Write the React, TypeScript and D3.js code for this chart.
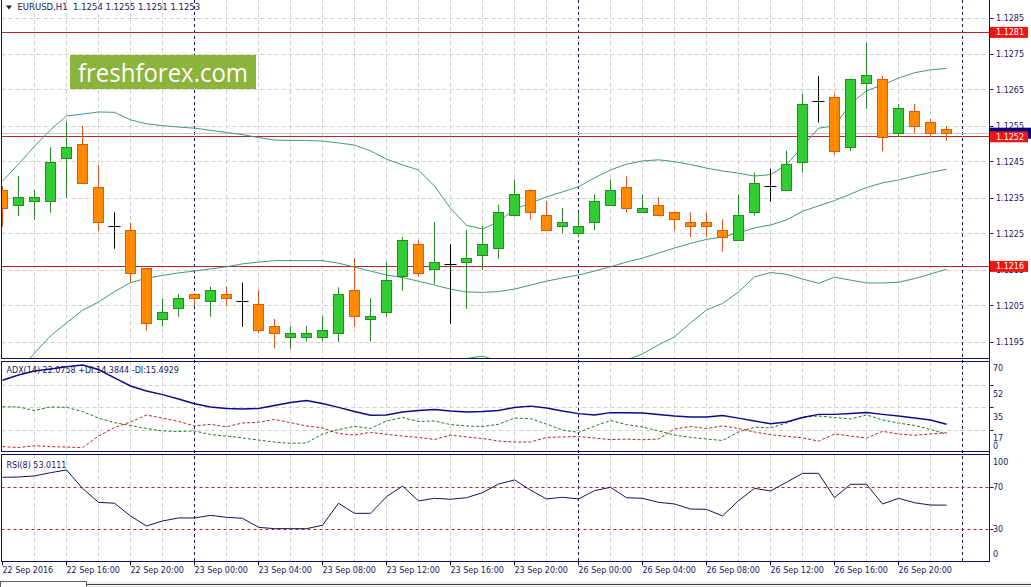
import * as d3 from 'd3'

// ── Data (EURUSD H1, 22 Sep 12:00 → 26 Sep 23:00) ────────────────────
const open = [
  1.12372, 1.12329, 1.1234, 1.1234, 1.1246, 1.12499, 1.1238, 1.1227, 1.1226, 1.12155,
  1.12012, 1.12044, 1.12083, 1.12063, 1.12083, 1.12063, 1.12053, 1.11994, 1.11963, 1.11963,
  1.11963, 1.11974, 1.12094, 1.12013, 1.12032, 1.12131, 1.12221, 1.12152, 1.12164, 1.12171,
  1.12191, 1.12209, 1.12301, 1.12371, 1.12302, 1.12271, 1.12252, 1.12282, 1.1233, 1.1238,
  1.1231, 1.1233, 1.1231, 1.12282, 1.12282, 1.1226, 1.12232, 1.12309, 1.12381, 1.12371,
  1.12449, 1.12619, 1.1263, 1.12491, 1.12669, 1.1268, 1.1253, 1.12591, 1.1256, 1.12541,
]
const high = [
  1.12383, 1.12411, 1.12372, 1.12491, 1.12562, 1.1255, 1.12442, 1.1231, 1.12282, 1.12155,
  1.12071, 1.12083, 1.12085, 1.12104, 1.12104, 1.12115, 1.12094, 1.12014, 1.11994, 1.11994,
  1.12022, 1.12102, 1.12183, 1.12071, 1.12172, 1.12242, 1.12233, 1.12283, 1.12222, 1.12261,
  1.12272, 1.12331, 1.12402, 1.12373, 1.12342, 1.12322, 1.12309, 1.1236, 1.12402, 1.1241,
  1.1236, 1.12352, 1.12312, 1.1231, 1.1231, 1.12291, 1.1236, 1.12421, 1.12431, 1.12481,
  1.12639, 1.12689, 1.12639, 1.12682, 1.12781, 1.12689, 1.12611, 1.12611, 1.12569, 1.1255,
]
const low = [
  1.1227, 1.123, 1.12289, 1.12309, 1.12351, 1.12388, 1.12259, 1.12209, 1.12115, 1.11981,
  1.11992, 1.1202, 1.1205, 1.1202, 1.1205, 1.11992, 1.11974, 1.11932, 1.11931, 1.11951,
  1.11951, 1.11951, 1.11992, 1.11951, 1.1202, 1.12092, 1.12131, 1.12111, 1.12, 1.12042,
  1.1215, 1.12181, 1.12299, 1.1229, 1.12258, 1.12252, 1.12241, 1.1226, 1.12328, 1.1231,
  1.12308, 1.123, 1.1226, 1.12241, 1.12241, 1.12201, 1.1223, 1.12301, 1.1234, 1.12369,
  1.1242, 1.12559, 1.1247, 1.1248, 1.12598, 1.1248, 1.1252, 1.1253, 1.1252, 1.12509,
]
const close = [
  1.12321, 1.12352, 1.12352, 1.12449, 1.12491, 1.12391, 1.12281, 1.1227, 1.12141, 1.12002,
  1.12032, 1.12071, 1.12071, 1.12094, 1.12071, 1.12063, 1.11982, 1.11974, 1.11974, 1.11974,
  1.11983, 1.12083, 1.1202, 1.12021, 1.12122, 1.12232, 1.12141, 1.12171, 1.12164, 1.12182,
  1.12221, 1.1231, 1.1236, 1.1231, 1.1226, 1.12282, 1.12271, 1.12341, 1.12371, 1.12321,
  1.12321, 1.12302, 1.12291, 1.12271, 1.12271, 1.12241, 1.12302, 1.12391, 1.12381, 1.12442,
  1.1261, 1.12619, 1.1248, 1.1268, 1.12689, 1.12519, 1.12599, 1.12549, 1.1253, 1.1253,
]

const bandUpper = [
  1.12397, 1.12444, 1.12494, 1.12539, 1.12578, 1.12583, 1.12589, 1.12588, 1.12567, 1.12556,
  1.12551, 1.12547, 1.12544, 1.12538, 1.12532, 1.12526, 1.12518, 1.12511, 1.1251, 1.1251,
  1.12508, 1.12503, 1.12497, 1.12481, 1.12458, 1.12442, 1.12428, 1.12383, 1.12322, 1.12274,
  1.12264, 1.12283, 1.12319, 1.12336, 1.12353, 1.12367, 1.12381, 1.12406, 1.12428, 1.12444,
  1.12453, 1.12456, 1.12451, 1.12443, 1.12433, 1.12425, 1.12419, 1.12411, 1.12415, 1.12442,
  1.12493, 1.12544, 1.1255, 1.12611, 1.12648, 1.12664, 1.12683, 1.12698, 1.12706, 1.1271,
]
const bandMiddle = [
  1.11822, 1.11869, 1.11919, 1.11967, 1.12003, 1.12038, 1.12061, 1.1209, 1.12115, 1.12127,
  1.12135, 1.12142, 1.12147, 1.12153, 1.12159, 1.12167, 1.12172, 1.12176, 1.12176, 1.12176,
  1.12176, 1.12169, 1.12158, 1.12147, 1.12136, 1.12129, 1.12119, 1.12108, 1.12097, 1.12089,
  1.12088, 1.1209, 1.12097, 1.12108, 1.12119, 1.12128, 1.12136, 1.12147, 1.12159, 1.12172,
  1.12183, 1.12197, 1.12211, 1.12224, 1.12235, 1.12242, 1.12253, 1.12267, 1.12275, 1.12289,
  1.12313, 1.12328, 1.12343, 1.12361, 1.12379, 1.12392, 1.124, 1.12411, 1.12421, 1.1243,
]
const bandLower = [
  1.11247, 1.11294, 1.11344, 1.11394, 1.11428, 1.11492, 1.11533, 1.11594, 1.11664, 1.117,
  1.11719, 1.11736, 1.1175, 1.11769, 1.11786, 1.11808, 1.11828, 1.11842, 1.11844, 1.11844,
  1.11844, 1.11836, 1.11819, 1.11814, 1.11814, 1.11817, 1.11811, 1.11833, 1.11872, 1.11904,
  1.11911, 1.11897, 1.11875, 1.11881, 1.11886, 1.11889, 1.11892, 1.11889, 1.11892, 1.119,
  1.11917, 1.11942, 1.11964, 1.12003, 1.12039, 1.12057, 1.12089, 1.12131, 1.12143, 1.12138,
  1.12125, 1.12113, 1.1213, 1.12122, 1.12114, 1.12114, 1.12116, 1.12126, 1.12139, 1.12152,
]

const adx = [
  56.5, 60.6, 63.7, 65.3, 67.1, 68.4, 64.9, 58.3, 52.0, 48.1,
  45.2, 41.8, 38.1, 35.6, 34.4, 34.0, 34.4, 36.7, 39.1, 40.6,
  38.3, 35.2, 32.0, 29.1, 29.3, 31.6, 32.8, 33.6, 32.4, 31.6,
  32.0, 32.8, 35.2, 36.2, 34.8, 32.4, 30.4, 29.3, 31.1, 31.0,
  30.9, 29.7, 28.5, 27.7, 27.7, 28.9, 26.8, 24.6, 22.4, 23.8,
  27.3, 29.8, 29.8, 30.5, 31.2, 29.8, 28.5, 26.9, 25.4, 22.08,
]
const plusDi = [
  35.8, 35.6, 32.8, 35.6, 35.3, 32.0, 26.9, 23.3, 21.1, 18.7,
  16.8, 16.4, 16.8, 14.0, 12.8, 11.3, 9.7, 8.1, 7.1, 7.4,
  14.4, 17.9, 20.4, 18.7, 24.6, 27.3, 24.2, 24.6, 21.8, 20.7,
  20.3, 22.0, 26.9, 26.4, 22.2, 17.5, 15.7, 20.5, 25.0, 21.8,
  19.9, 16.8, 13.6, 11.8, 10.5, 9.3, 16.0, 19.7, 19.2, 23.0,
  27.7, 28.5, 27.3, 26.2, 29.3, 25.4, 23.0, 21.1, 17.9, 14.38,
]
const minusDi = [
  4.5, 3.8, 5.2, 4.5, 4.2, 3.7, 12.8, 19.5, 23.8, 29.3,
  26.8, 24.3, 20.7, 22.0, 20.1, 23.0, 23.6, 25.8, 23.3, 20.7,
  19.1, 14.8, 13.6, 15.7, 14.2, 12.8, 11.7, 10.1, 13.6, 12.1,
  10.9, 8.9, 8.1, 8.1, 11.7, 12.1, 12.5, 11.2, 10.0, 10.4,
  9.9, 10.5, 18.3, 20.3, 18.7, 20.8, 18.7, 16.0, 13.9, 12.6,
  11.4, 8.8, 14.4, 12.8, 11.2, 16.5, 14.4, 13.4, 14.4, 15.49,
]
const rsi = [
  79.5, 79.8, 80.8, 83.9, 86.5, 69.0, 55.7, 54.8, 42.7, 33.1,
  37.9, 40.8, 40.8, 43.3, 41.4, 40.5, 31.9, 30.6, 30.6, 30.6,
  33.8, 54.8, 45.2, 45.2, 61.0, 71.2, 57.0, 59.5, 58.6, 60.1,
  64.9, 73.1, 77.0, 67.4, 58.9, 60.5, 58.9, 66.8, 70.0, 60.1,
  59.5, 55.7, 54.1, 49.3, 49.0, 42.7, 57.2, 69.0, 66.5, 74.8,
  83.3, 83.3, 60.1, 72.9, 72.9, 54.1, 59.5, 55.3, 53.1, 53.0111,
]

const priceTicks = [1.1285, 1.1275, 1.1265, 1.1255, 1.1245, 1.1235, 1.1225, 1.1215, 1.1205, 1.1195]
const levels = [1.1281, 1.1252, 1.1216]
const bid = 1.1253
const adxGrid = [52.5, 35, 17.5]
const adxLabels = [
  { v: 70, text: '70', dy: 5.5 },
  { v: 52.5, text: '52', dy: 9 },
  { v: 35, text: '35', dy: 9 },
  { v: 17.5, text: '17', dy: 8.5 },
  { v: 0, text: '0', dy: -6 },
]
const rsiLevels = [70, 30]
const rsiLabels = [
  { v: 100, text: '100', dy: 6 },
  { v: 70, text: '70', dy: 0 },
  { v: 30, text: '30', dy: 0 },
  { v: 0, text: '0', dy: -6.5 },
]
const timeLabels = [
  { i: 0, text: '22 Sep 2016' },
  { i: 4, text: '22 Sep 16:00' },
  { i: 8, text: '22 Sep 20:00' },
  { i: 12, text: '23 Sep 00:00' },
  { i: 16, text: '23 Sep 04:00' },
  { i: 20, text: '23 Sep 08:00' },
  { i: 24, text: '23 Sep 12:00' },
  { i: 28, text: '23 Sep 16:00' },
  { i: 32, text: '23 Sep 20:00' },
  { i: 36, text: '26 Sep 00:00' },
  { i: 40, text: '26 Sep 04:00' },
  { i: 44, text: '26 Sep 08:00' },
  { i: 48, text: '26 Sep 12:00' },
  { i: 52, text: '26 Sep 16:00' },
  { i: 56, text: '26 Sep 20:00' },
]
const daySeparators = [12, 36, 60]

// ── Layout / style ───────────────────────────────────────────────────
const W = 1031
const H = 587
const LEFT = 1.5
const AXIS_X = 989.5
const MAIN = { top: -1, bottom: 358.5 }
const ADX_P = { top: 361.5, bottom: 451.5 }
const RSI_P = { top: 454.5, bottom: 561.5 }

const FONT = "Tahoma, 'DejaVu Sans', sans-serif"
const TEXT = '#16165c'
const FRAME = '#101060'
const GRID = '#cfcfcf'
const SEP = '#10106a'
const BULL_FILL = '#32cd32'
const BULL_EDGE = '#2a8a2a'
const BEAR_FILL = '#ff8c00'
const BEAR_EDGE = '#e0561a'
const DOJI = '#000000'
const BAND = '#3c9c74'
const LEVEL = '#b8262a'
const LEVEL_BOX = '#ee1515'
const BID_LINE = '#c8c8c8'
const ADX_COLOR = '#0a0a8a'
const PLUS_COLOR = '#17801c'
const MINUS_COLOR = '#c62020'
const RSI_COLOR = '#12125e'

const x = d3.scaleLinear().domain([0, 60]).range([2.5, 962.5])
const yPrice = d3.scaleLinear().domain([1.1195, 1.1285]).range([342, 18])
const yAdx = d3.scaleLinear().domain([0, 70]).range([452.4, 363])
const yRsi = d3.scaleLinear().domain([0, 100]).range([560.8, 455.8])

const crisp = (v: number) => Math.round(v - 0.5) + 0.5

const gridIdx = d3.range(0, 61, 2)

function Panel({ top, bottom, id }: { top: number; bottom: number; id: string }) {
  return (
    <>
      <clipPath id={id}>
        <rect x={LEFT + 0.5} y={top + 0.5} width={AXIS_X - LEFT - 1} height={bottom - top - 1} />
      </clipPath>
      <g>
        {gridIdx
          .filter((i) => !daySeparators.includes(i) && i > 0)
          .map((i) => (
            <line key={i} x1={x(i)} x2={x(i)} y1={top} y2={bottom} stroke={GRID} strokeDasharray="4,3" />
          ))}
      </g>
    </>
  )
}

export default function App() {
  const bandLine = (vals: number[]) =>
    d3
      .line<number>()
      .x((_, i) => x(i))
      .y((d) => yPrice(d))(vals) ?? ''
  const subLine = (vals: number[], y: d3.ScaleLinear<number, number>) =>
    d3
      .line<number>()
      .x((_, i) => x(i))
      .y((d) => y(d))(vals) ?? ''

  const last = open.length - 1

  return (
    <div style={{ position: 'fixed', left: 0, top: 0, width: W, height: H, background: '#fff' }}>
      <svg width={W} height={H} style={{ display: 'block', fontFamily: FONT }}>
        <rect x={0} y={0} width={W} height={H} fill="#fff" />
        <defs>
          <Panel top={MAIN.top} bottom={MAIN.bottom} id="clip-main" />
        </defs>

        {/* grids */}
        <Panel top={MAIN.top} bottom={MAIN.bottom} id="clip-main-g" />
        <Panel top={ADX_P.top} bottom={ADX_P.bottom} id="clip-adx" />
        <Panel top={RSI_P.top} bottom={RSI_P.bottom} id="clip-rsi" />

        {priceTicks.map((p) => (
          <line key={p} x1={LEFT} x2={AXIS_X} y1={crisp(yPrice(p))} y2={crisp(yPrice(p))} stroke={GRID} strokeDasharray="4,3" />
        ))}
        {adxGrid.map((v) => (
          <line key={v} x1={LEFT} x2={AXIS_X} y1={crisp(yAdx(v))} y2={crisp(yAdx(v))} stroke={GRID} strokeDasharray="4,3" />
        ))}

        {/* day separators */}
        {daySeparators.map((i) => (
          <line key={i} x1={x(i)} x2={x(i)} y1={0} y2={RSI_P.bottom} stroke={SEP} strokeDasharray="3,3" />
        ))}

        {/* watermark */}
        <rect x={70} y={55} width={186} height={34} fill="#8cb33c" />
        <text x={78} y={81.5} fill="#fff" fontFamily="'Open Sans', sans-serif" fontSize={25} textLength={170} lengthAdjust="spacingAndGlyphs">
          freshforex.com
        </text>

        {/* main chart */}
        <g clipPath="url(#clip-main-g)">
          <line x1={LEFT} x2={AXIS_X} y1={crisp(yPrice(bid))} y2={crisp(yPrice(bid))} stroke={BID_LINE} />
          {levels.map((l) => (
            <line key={l} x1={LEFT} x2={AXIS_X} y1={crisp(yPrice(l))} y2={crisp(yPrice(l))} stroke={LEVEL} />
          ))}
          <path d={bandLine(bandUpper)} fill="none" stroke={BAND} />
          <path d={bandLine(bandMiddle)} fill="none" stroke={BAND} />
          <path d={bandLine(bandLower)} fill="none" stroke={BAND} />

          {open.map((o, i) => {
            const c = close[i]
            const cx = x(i)
            const flat = c === o
            const up = c > o
            const edge = flat ? DOJI : up ? BULL_EDGE : BEAR_EDGE
            const top = crisp(yPrice(Math.max(o, c)))
            const bot = crisp(yPrice(Math.min(o, c)))
            return (
              <g key={i}>
                <line x1={cx} x2={cx} y1={yPrice(high[i])} y2={yPrice(low[i])} stroke={edge} />
                {flat ? (
                  <line x1={cx - 6} x2={cx + 6} y1={top} y2={top} stroke={DOJI} />
                ) : (
                  <rect
                    x={cx - 5}
                    y={top}
                    width={10}
                    height={Math.max(bot - top, 1)}
                    fill={up ? BULL_FILL : BEAR_FILL}
                    stroke={edge}
                  />
                )}
              </g>
            )
          })}
        </g>

        {/* ADX */}
        <g clipPath="url(#clip-adx)">
          <path d={subLine(plusDi, yAdx)} fill="none" stroke={PLUS_COLOR} strokeDasharray="3,2" />
          <path d={subLine(minusDi, yAdx)} fill="none" stroke={MINUS_COLOR} strokeDasharray="3,2" />
          <path d={subLine(adx, yAdx)} fill="none" stroke={ADX_COLOR} strokeWidth={1.4} />
        </g>

        {/* RSI */}
        <g clipPath="url(#clip-rsi)">
          {rsiLevels.map((v) => (
            <line key={v} x1={LEFT} x2={AXIS_X} y1={crisp(yRsi(v))} y2={crisp(yRsi(v))} stroke={LEVEL} strokeDasharray="3,3" />
          ))}
          <path d={subLine(rsi, yRsi)} fill="none" stroke={RSI_COLOR} />
        </g>

        {/* frames */}
        {[MAIN, ADX_P, RSI_P].map((p, k) => (
          <rect key={k} x={LEFT} y={p.top} width={AXIS_X - LEFT} height={p.bottom - p.top} fill="none" stroke={FRAME} />
        ))}
        <line x1={AXIS_X} x2={AXIS_X} y1={0} y2={RSI_P.bottom} stroke={FRAME} />

        {/* headers */}
        <path d="M6,5.5 L12,5.5 L9,9.5 Z" fill={TEXT} />
        <text x={17.5} y={7} dy="0.35em" fontSize={8.5} fill={TEXT} style={{ whiteSpace: 'pre' }}>
          {`EURUSD,H1  ${open[last].toFixed(4)} ${high[last].toFixed(4)} ${low[last].toFixed(4)} ${close[last].toFixed(4)}`}
        </text>
        <text x={6.5} y={370} dy="0.35em" fontSize={8} fill={TEXT}>
          {`ADX(14) ${adx[last].toFixed(4).replace('22.0800', '22.0758')} +DI:14.3844 -DI:15.4929`}
        </text>
        <text x={6.5} y={465} dy="0.35em" fontSize={8} fill={TEXT}>
          {`RSI(8) ${rsi[last].toFixed(4)}`}
        </text>

        {/* price axis */}
        {priceTicks.map((p) => (
          <g key={p}>
            <line x1={AXIS_X} x2={AXIS_X + 4} y1={crisp(yPrice(p))} y2={crisp(yPrice(p))} stroke={FRAME} />
            <text x={996} y={yPrice(p)} dy="0.35em" fontSize={8} fill={TEXT}>
              {p.toFixed(4)}
            </text>
          </g>
        ))}
        <rect x={990} y={yPrice(bid) - 5.5} width={41} height={11} fill="#000080" />
        {levels.map((l) => (
          <g key={l}>
            <rect x={990} y={yPrice(l) - 5.5} width={38} height={11} fill={LEVEL_BOX} />
            <text x={996} y={yPrice(l)} dy="0.35em" fontSize={8} fill="#fff">
              {l.toFixed(4)}
            </text>
          </g>
        ))}

        {/* ADX axis */}
        {adxGrid.map((v) => (
          <line key={v} x1={AXIS_X} x2={AXIS_X + 4} y1={crisp(yAdx(v))} y2={crisp(yAdx(v))} stroke={FRAME} />
        ))}
        {adxLabels.map((l) => (
          <text key={l.text} x={993} y={yAdx(l.v) + l.dy} dy="0.35em" fontSize={8} fill={TEXT}>
            {l.text}
          </text>
        ))}

        {/* RSI axis */}
        {rsiLevels.map((v) => (
          <line key={v} x1={AXIS_X} x2={AXIS_X + 4} y1={crisp(yRsi(v))} y2={crisp(yRsi(v))} stroke={FRAME} />
        ))}
        {rsiLabels.map((l) => (
          <text key={l.text} x={993} y={yRsi(l.v) + l.dy} dy="0.35em" fontSize={8} fill={TEXT}>
            {l.text}
          </text>
        ))}

        {/* time axis */}
        {timeLabels.map((t) => (
          <g key={t.i}>
            <line x1={x(t.i)} x2={x(t.i)} y1={RSI_P.bottom} y2={RSI_P.bottom + 4} stroke={FRAME} />
            <text x={x(t.i)} y={570.5} dy="0.35em" fontSize={8} fill={TEXT}>
              {t.text}
            </text>
          </g>
        ))}

        {/* tab strip */}
        <rect x={0} y={582} width={W} height={5} fill="#f0f0f0" />
        <rect x={0.5} y={581.5} width={86} height={6} fill="#fff" stroke="#606060" />
        <line x1={86.5} x2={W} y1={584.5} y2={584.5} stroke="#404040" />
      </svg>
    </div>
  )
}
